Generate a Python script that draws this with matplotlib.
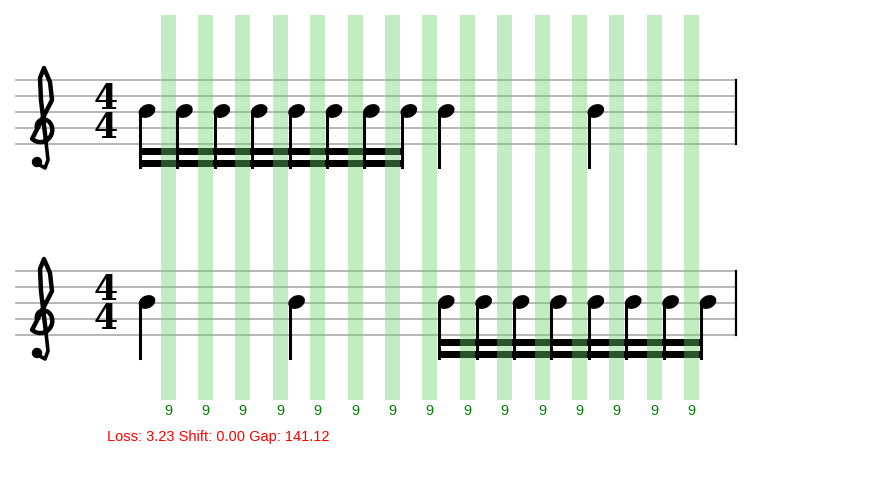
import matplotlib
matplotlib.use("Agg")
import matplotlib.pyplot as plt
import numpy as np
from matplotlib.patches import Ellipse, Rectangle, Circle

# data
band_labels = ["9"] * 15
staff1_onsets = [0, 0.25, 0.5, 0.75, 1.0, 1.25, 1.5, 1.75, 2, 3]
staff1_durs = [0.25]*8 + [1, 1]
staff2_onsets = [0, 1, 2, 2.25, 2.5, 2.75, 3.0, 3.25, 3.5, 3.75]
staff2_durs = [1, 1] + [0.25]*8
loss, shift, gap = 3.23, 0.00, 141.12

fig = plt.figure(figsize=(8.8, 5), dpi=100)
ax = fig.add_axes([0, 0, 1, 1])
ax.set_xlim(0, 880); ax.set_ylim(500, 0); ax.axis("off")

x0, beat = 139, 149.6
band_x0, band_dx = 168, 37.4

def clef(top):
    # treble clef drawn as a shape (no installed font has U+1D11E)
    cx, cy = 42, top + 48
    t = np.linspace(0, 1.75*np.pi, 80)
    r = 5 + 9*t/(1.75*np.pi)
    sx = cx + r*np.cos(t + np.pi)
    sy = cy + r*np.sin(t + np.pi)*1.1
    # spiral end continues up to loop at top
    ex, ey = sx[-1], sy[-1]
    up_x = np.array([ex, 52, 50, 44, 40, 41, 46])
    up_y = np.array([ey, top+20, top+2, top-12, top-2, top+20, top+62])
    px = np.concatenate([sx, up_x]); py = np.concatenate([sy, up_y])
    ax.plot(px, py, color="black", lw=3.2, solid_capstyle="round", zorder=3)
    # tail
    tx = np.array([46, 48, 45, 38]); ty = np.array([top+62, top+80, top+88, top+84])
    ax.plot(tx, ty, color="black", lw=2.6, zorder=3)
    ax.add_patch(Circle((37, top+82), 4.5, color="black", zorder=3))

def staff(top, onsets, durs):
    for k in range(5):
        ax.plot([16, 736], [top+k*16]*2, color="#aaaaaa", lw=1.2, zorder=2)
    ax.plot([736, 736], [top, top+64], color="black", lw=1.6, zorder=2)
    clef(top)
    ax.text(106, top+19, "4", fontsize=25, fontweight="bold", ha="center", va="center", family="DejaVu Serif")
    ax.text(106, top+48, "4", fontsize=25, fontweight="bold", ha="center", va="center", family="DejaVu Serif")
    hy = top+31
    bottom = top+87
    xs = [x0 + t*beat for t in onsets]
    for x in xs:
        ax.add_patch(Ellipse((x+8, hy), 16, 11.5, angle=-25, color="black", zorder=5))
        ax.plot([x+1, x+1], [hy+2, bottom], color="black", lw=2.2, zorder=5)
    six = [x for x, d in zip(xs, durs) if d == 0.25]
    if six:
        for by in (bottom-19, bottom-7):
            ax.add_patch(Rectangle((six[0], by), six[-1]-six[0]+2, 7, color="black", zorder=4, lw=0))

staff(80, staff1_onsets, staff1_durs)
staff(271, staff2_onsets, staff2_durs)

for i, lab in enumerate(band_labels):
    cx = band_x0 + i*band_dx
    ax.add_patch(Rectangle((cx-7.5, 15), 15, 385, color=(104/255, 210/255, 104/255),
                           alpha=0.4, zorder=6, lw=0))
    ax.text(cx, 411, lab, color="green", fontsize=10.5, ha="center", va="center",
            family="Liberation Sans")

ax.text(107, 437, f"Loss: {loss:.2f} Shift: {shift:.2f} Gap: {gap:.2f}", color="red", fontsize=10.5,
        ha="left", va="center", family="Liberation Sans")
fig.savefig("out.png", dpi=100)
